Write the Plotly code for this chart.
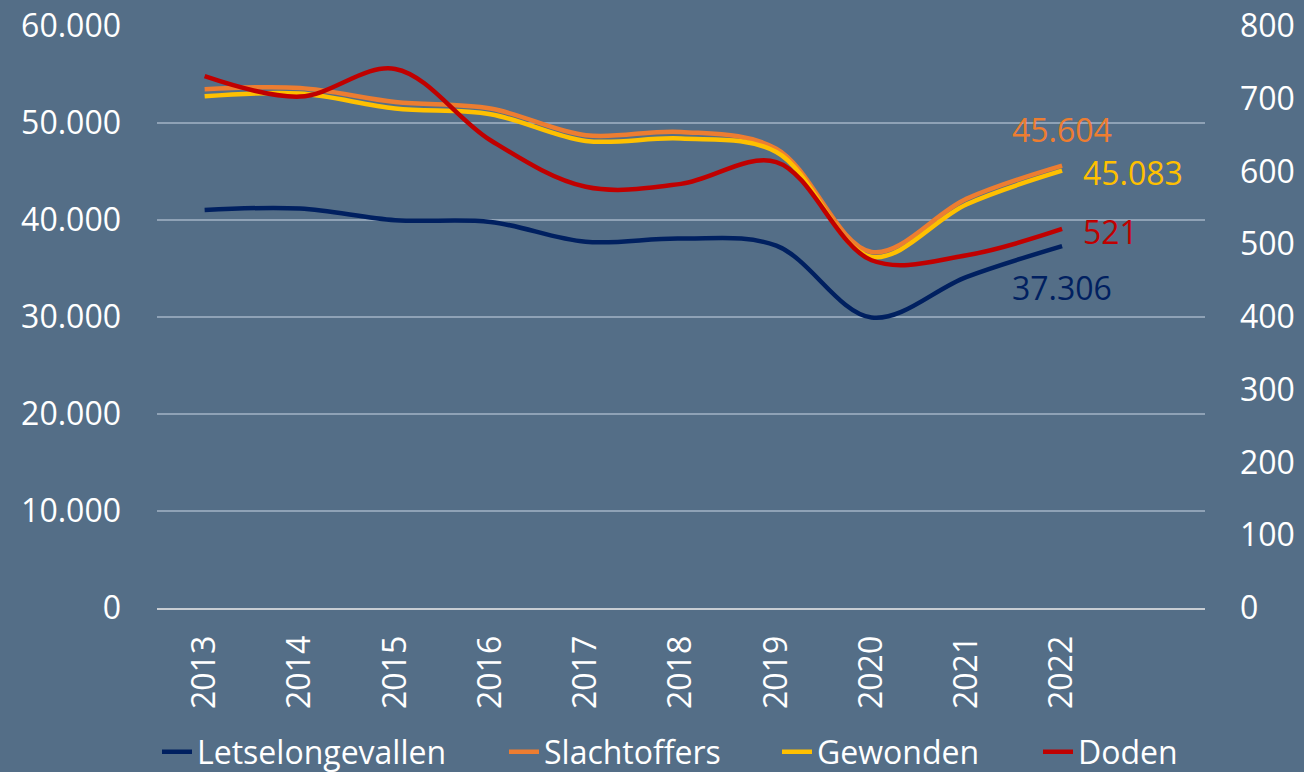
import plotly.graph_objects as go

years = ["2013", "2014", "2015", "2016", "2017", "2018", "2019", "2020", "2021", "2022"]
letselongevallen = [41040, 41180, 39980, 39800, 37750, 38090, 37350, 29950, 34140, 37306]
slachtoffers = [53480, 53610, 52170, 51490, 48740, 49080, 47360, 36710, 42200, 45604]
gewonden = [52760, 53030, 51490, 50900, 48150, 48400, 47020, 36200, 41630, 45083]
doden = [731, 703, 741, 643, 579, 583, 613, 478, 485, 521]

left_ticks = [0, 10000, 20000, 30000, 40000, 50000, 60000]
right_ticks = [0, 100, 200, 300, 400, 500, 600, 700, 800]

BG = "#546E87"
FONT = "'Open Sans', 'Noto Sans', sans-serif"
LW = 4.5
W, H = 1304, 772

def fmt(v):
    return f"{v:,}".replace(",", ".")

series = [
    ("Letselongevallen", letselongevallen, "#002060", "y", "legend", 197),
    ("Slachtoffers", slachtoffers, "#ED7D31", "y", "legend2", 544),
    ("Gewonden", gewonden, "#FFC000", "y", "legend3", 817),
    ("Doden", doden, "#C00000", "y2", "legend4", 1078),
]

fig = go.Figure()
legend_layouts = {}
for name, vals, color, yax, leg, text_x in series:
    fig.add_trace(go.Scatter(x=years, y=vals, name=name, mode="lines", yaxis=yax, legend=leg,
                             line=dict(color=color, width=LW, shape="spline", smoothing=1)))
    legend_layouts[leg] = dict(orientation="h", xref="container", yref="container",
                               x=(text_x - 40) / W, xanchor="left", y=1 - 752 / H, yanchor="middle",
                               font=dict(size=32, color="white", family=FONT),
                               bgcolor="rgba(0,0,0,0)", borderwidth=0)

last = len(years) - 1
fig.add_annotation(x=last, y=slachtoffers[-1], text=fmt(slachtoffers[-1]), showarrow=False,
                   xanchor="center", yanchor="middle", yshift=36, xshift=0,
                   font=dict(color="#ED7D31", size=32, family=FONT))
fig.add_annotation(x=last, y=gewonden[-1], text=fmt(gewonden[-1]), showarrow=False,
                   xanchor="left", yanchor="middle", xshift=19, yshift=-2,
                   font=dict(color="#FFC000", size=32, family=FONT))
fig.add_annotation(x=last, y=doden[-1], yref="y2", text=fmt(doden[-1]), showarrow=False,
                   xanchor="left", yanchor="middle", xshift=19, yshift=-3,
                   font=dict(color="#C00000", size=32, family=FONT))
fig.add_annotation(x=last, y=letselongevallen[-1], text=fmt(letselongevallen[-1]), showarrow=False,
                   xanchor="center", yanchor="middle", yshift=-41, xshift=0,
                   font=dict(color="#002060", size=32, family=FONT))

fig.update_layout(
    width=W, height=H,
    paper_bgcolor=BG, plot_bgcolor=BG,
    margin=dict(l=157, r=99, t=26, b=164, autoexpand=False),
    separators=",.",
    font=dict(family=FONT, color="white", size=32),
    showlegend=True,
    xaxis=dict(type="category", range=[-0.5, 10.5], tickangle=-90, showgrid=False,
               showline=True, linecolor="#C8CDD3", linewidth=2, ticks="",
               tickfont=dict(size=32, color="white"), zeroline=False,
               ticklabelstandoff=13),
    yaxis=dict(range=[0, 60000], tickvals=left_ticks, ticktext=[fmt(v) for v in left_ticks],
               showgrid=True, gridcolor="#8FA2B6", gridwidth=1.5, zeroline=False,
               tickfont=dict(size=32, color="white"), ticks="", ticklabelstandoff=35),
    yaxis2=dict(range=[0, 800], tickvals=right_ticks, ticktext=[str(v) for v in right_ticks],
                overlaying="y", side="right", showgrid=False, zeroline=False,
                tickfont=dict(size=32, color="white"), ticks="", ticklabelstandoff=34),
    **legend_layouts,
)

fig.write_html("out.html", config={"displayModeBar": False},
               post_script="document.body.style.margin='0';document.body.style.overflow='hidden';")
